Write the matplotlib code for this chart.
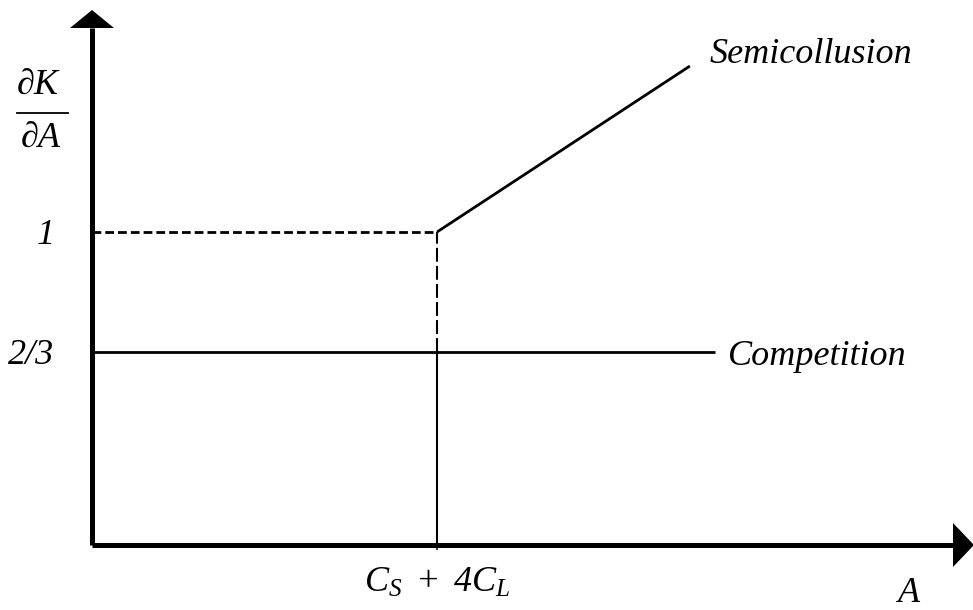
import matplotlib
matplotlib.use("Agg")
import matplotlib.pyplot as plt
from matplotlib.patches import Polygon

plt.rcParams['font.family'] = ['Liberation Serif', 'DejaVu Serif']
plt.rcParams['mathtext.fontset'] = 'custom'
plt.rcParams['mathtext.rm'] = 'Liberation Serif:italic'
plt.rcParams['mathtext.it'] = 'Liberation Serif:italic'
plt.rcParams['lines.scale_dashes'] = False

# ---- data (schematic) ----
threshold = 1.0                      # A = C_S + 4C_L
level_one = 1.0                      # dK/dA = 1
level_comp = 2.0 / 3.0               # dK/dA = 2/3
semi_x = [1.0, 1.733]                # semicollusion segment
semi_y = [1.0, 1.461]
comp_x_end = 1.806                   # competition line end
y_ticks = [2.0 / 3.0, 1.0]
y_tick_labels = ['2/3', '1']
x_ticks = [1.0]
x_tick_labels = [r'$C_S\ +\ 4C_L$']
line_labels = ['Semicollusion', 'Competition']

W, H = 973, 610
fig = plt.figure(figsize=(W / 100, H / 100), dpi=100)
ax_l, ax_r, ax_b, ax_t = 92, 953, 545, 28
ax = fig.add_axes([ax_l / W, (H - ax_b) / H, (ax_r - ax_l) / W, (ax_b - ax_t) / H])

ax.set_xlim(0, (ax_r - ax_l) / 345)
ax.set_ylim((592 - ax_b) / 360, (592 - ax_t) / 360)
x0 = ax.get_xlim()[0]
ybot = ax.get_ylim()[0]

for s in ['top', 'right']:
    ax.spines[s].set_visible(False)
for s in ['left', 'bottom']:
    ax.spines[s].set_linewidth(3.6)
    ax.spines[s].set_capstyle('butt')

# arrowheads
aw, ah = ax_r - ax_l, ax_b - ax_t
up = Polygon([[-22 / aw, 1.0], [22 / aw, 1.0], [0, 1.0 + 18 / ah]], closed=True,
             transform=ax.transAxes, clip_on=False, color='black', lw=0)
right = Polygon([[1.0, -22 / ah], [1.0, 22 / ah], [1.0 + 21 / aw, 0]], closed=True,
                transform=ax.transAxes, clip_on=False, color='black', lw=0)
ax.add_patch(up)
ax.add_patch(right)

# lines
ax.plot([x0, threshold], [level_one, level_one], color='black', lw=2.0,
        dashes=(6.3, 2.9), solid_capstyle='butt', dash_capstyle='butt')
ax.plot([threshold, threshold], [level_comp, level_one], color='black', lw=1.5,
        dashes=(10, 3), dash_capstyle='butt')
ax.plot([threshold, threshold], [ybot, level_comp], color='black', lw=1.5,
        solid_capstyle='butt')
ax.plot([x0, comp_x_end], [level_comp, level_comp], color='black', lw=2.0,
        solid_capstyle='butt')
ax.plot(semi_x, semi_y, color='black', lw=2.0, solid_capstyle='butt')

fs = 26
ax.annotate(line_labels[0], xy=(semi_x[-1], semi_y[-1]), xytext=(14.4, 2.2),
            textcoords='offset points', ha='left', va='baseline',
            fontsize=fs, style='italic')
ax.annotate(line_labels[1], xy=(comp_x_end, level_comp), xytext=(9.4, -9.4),
            textcoords='offset points', ha='left', va='baseline',
            fontsize=fs, style='italic')

# ticks
ax.set_yticks(y_ticks)
ax.set_yticklabels(y_tick_labels, fontsize=fs, style='italic')
ax.tick_params(axis='y', length=0, pad=27)
ax.set_xticks(x_ticks)
ax.set_xticklabels(x_tick_labels, fontsize=fs)
ax.tick_params(axis='x', length=3.8, width=1.1, pad=12)

# axis labels
ax.text((909 - ax_l) / aw, -(593 - ax_b) / ah, 'A', transform=ax.transAxes,
        ha='center', va='center', fontsize=fs, style='italic')
ax.text((38 - ax_l) / aw, (ax_b - 85) / ah, '∂K', transform=ax.transAxes,
        ha='center', va='center', fontsize=fs, style='italic', clip_on=False)
ax.text((41 - ax_l) / aw, (ax_b - 138) / ah, '∂A', transform=ax.transAxes,
        ha='center', va='center', fontsize=fs, style='italic', clip_on=False)
ax.plot([(17 - ax_l) / aw, (68 - ax_l) / aw], [(ax_b - 113) / ah] * 2,
        transform=ax.transAxes, color='black', lw=1.3, clip_on=False)

fig.savefig('out.png', dpi=100)
